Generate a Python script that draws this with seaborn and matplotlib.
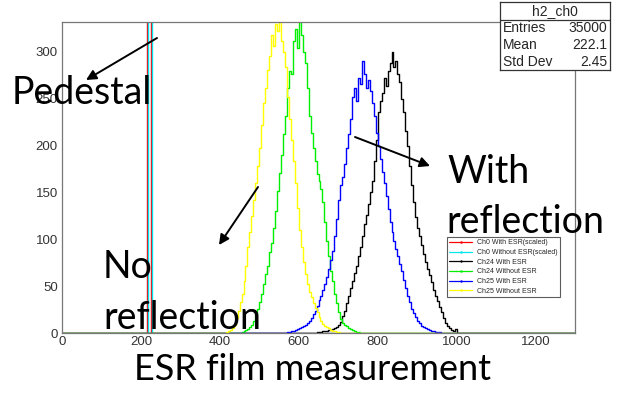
import numpy as np
import pandas as pd
import matplotlib
matplotlib.use("Agg")
import matplotlib.pyplot as plt
from matplotlib.lines import Line2D
from matplotlib.patches import FancyArrowPatch
import seaborn as sns

# ---- histogram contents (ADC channel, 5-channel bins: left edge -> counts) ----
ch25_noesr_start = 410
ch25_noesr = [0, 1, 2, 3, 5, 9, 16, 24, 33, 42, 55, 72, 92, 108, 125, 142, 160, 178,
              197, 222, 245, 262, 281, 296, 318, 306, 330, 322, 335, 312, 300, 284,
              252, 228, 206, 184, 160, 133, 110, 92, 76, 63, 52, 44, 38, 32, 27, 22,
              17, 13, 10, 8, 6, 5, 3, 2, 2, 1, 1, 0]

ch24_noesr_start = 450
ch24_noesr = [0, 1, 2, 3, 4, 6, 9, 13, 19, 26, 33, 42, 52, 63, 72, 86, 96, 112, 130,
              152, 171, 190, 212, 232, 262, 280, 276, 312, 325, 304, 336, 318, 300,
              288, 262, 232, 214, 198, 184, 170, 162, 154, 140, 118, 98, 82, 66, 55,
              42, 32, 22, 15, 11, 9, 7, 5, 4, 3, 2, 1, 1, 0]

ch25_esr_start = 565
ch25_esr = [0, 1, 1, 2, 2, 3, 4, 5, 6, 8, 9, 11, 13, 16, 20, 24, 29, 35, 40, 46, 52,
            60, 68, 78, 88, 104, 122, 142, 158, 166, 180, 198, 212, 228, 252, 262,
            248, 272, 266, 290, 276, 262, 270, 258, 246, 232, 214, 200, 186, 172,
            160, 146, 132, 118, 108, 98, 90, 82, 74, 66, 57, 48, 40, 33, 26, 21, 17,
            13, 11, 8, 6, 5, 4, 3, 2, 2, 1, 1, 1, 0]

ch24_esr_start = 640
ch24_esr = [0, 1, 1, 1, 2, 2, 2, 3, 3, 4, 5, 6, 9, 12, 18, 24, 32, 40, 48, 55, 64, 72,
            82, 92, 104, 116, 126, 138, 150, 162, 184, 206, 236, 248, 256, 272, 264,
            280, 288, 300, 284, 290, 276, 268, 250, 236, 216, 200, 178, 158, 140, 124,
            112, 104, 94, 84, 76, 68, 62, 54, 46, 40, 34, 28, 22, 16, 11, 7, 5, 3, 2,
            4, 0]

# pedestal peaks (scaled), one wide bin each, far above the displayed range
ch0_esr_edges = [215, 225]
ch0_noesr_edges = [218, 228]
ch0_height = [2000]

labels = ["Ch0 With ESR(scaled)", "Ch0 Without ESR(scaled)", "Ch24 With ESR",
          "Ch24 Without ESR", "Ch25 With ESR", "Ch25 Without ESR"]
colors = ["#ff0000", "#00e5ee", "#000000", "#00ee00", "#0000ff", "#ffff00"]

x_ticks = [0, 200, 400, 600, 800, 1000, 1200]
y_ticks = [0, 50, 100, 150, 200, 250, 300]

BW = 5
XMAX = 1300


def full_range(start, counts):
    """Spread a block of bin contents over the whole 0..XMAX axis."""
    edges = np.arange(0, XMAX + BW, BW, dtype=float)
    vals = np.zeros(len(edges) - 1)
    i0 = start // BW
    vals[i0:i0 + len(counts)] = counts
    return edges, vals


def pedestal(edges, height):
    e = np.array([0] + list(edges) + [XMAX], dtype=float)
    v = np.array([0, height[0], 0], dtype=float)
    return e, v


sns.set_style("white")
plt.rcParams["font.family"] = ["Liberation Sans", "DejaVu Sans"]

fig = plt.figure(figsize=(6.25, 3.98), dpi=100)
ax = fig.add_axes([62 / 625, 1 - 333 / 398, (575 - 62) / 625, (333 - 22) / 398])

series = [
    pedestal(ch0_esr_edges, ch0_height),
    pedestal(ch0_noesr_edges, ch0_height),
    full_range(ch24_esr_start, ch24_esr),
    full_range(ch24_noesr_start, ch24_noesr),
    full_range(ch25_esr_start, ch25_esr),
    full_range(ch25_noesr_start, ch25_noesr),
]

for (edges, vals), lab, col in zip(series, labels, colors):
    centers = (edges[:-1] + edges[1:]) / 2
    df = pd.DataFrame({"adc": centers, "counts": vals})
    sns.histplot(data=df, x="adc", weights="counts", bins=edges.tolist(),
                 element="step", fill=False, color=col, linewidth=1.0, ax=ax)

ax.set_xlim(0, XMAX)
ax.set_ylim(0, 332)
ax.set_xlabel("")
ax.set_ylabel("")
ax.set_xticks(x_ticks)
ax.set_yticks(y_ticks)
ax.set_xticks(np.arange(0, XMAX + 1, 50), minor=True)
ax.set_yticks(np.arange(0, 331, 10), minor=True)
ax.tick_params(axis="both", which="both", direction="in", colors="#555555",
               labelcolor="#333333", labelsize=9.5, width=0.8)
ax.tick_params(axis="y", which="major", length=11, pad=3)
ax.tick_params(axis="y", which="minor", length=5.5)
ax.tick_params(axis="x", which="major", length=6.5, pad=2)
ax.tick_params(axis="x", which="minor", length=3.2)
for s in ax.spines.values():
    s.set_color("#777777")
    s.set_linewidth(0.9)

# legend box
handles = [Line2D([0], [0], color=c, lw=0.9, marker=".", markersize=1.5) for c in colors]
leg = fig.legend(handles, labels, loc="upper left",
                 bbox_to_anchor=(447 / 625, 1 - 237 / 398),
                 fontsize=5, frameon=True, fancybox=False, edgecolor="#333333",
                 handlelength=3.2, handletextpad=0.8, labelspacing=0.38,
                 borderpad=0.35, borderaxespad=0)
leg.get_frame().set_linewidth(0.8)

# statistics box
sx0, sx1, sy0, sy1, sdiv = 500, 610, 70, 2, 20
box = fig.add_axes([sx0 / 625, 1 - sy0 / 398, (sx1 - sx0) / 625, (sy0 - sy1) / 398])
box.set_xlim(0, 1)
box.set_ylim(0, 1)
box.set_xticks([])
box.set_yticks([])
for s in box.spines.values():
    s.set_color("#333333")
    s.set_linewidth(0.9)
div = 1 - (sdiv - sy1) / (sy0 - sy1)
box.axhline(div, color="#333333", lw=0.9)
box.text(0.5, (1 + div) / 2, "h2_ch0", ha="center", va="center", fontsize=10)
stats = [("Entries", "35000"), ("Mean", "222.1"), ("Std Dev", "2.45")]
for i, (k, v) in enumerate(stats):
    yy = div * (1 - (i + 0.5) / 3)
    box.text(0.03, yy, k, ha="left", va="center", fontsize=10)
    box.text(0.975, yy, v, ha="right", va="center", fontsize=10)

# annotations
big = dict(fontsize=27, family=["Lato", "DejaVu Sans"], color="black")
H = 398
fig.text(12 / 625, 1 - 93 / H, "Pedestal", ha="left", va="center", **big)
fig.text(447 / 625, 1 - 172 / H, "With", ha="left", va="center", **big)
fig.text(446 / 625, 1 - 222 / H, "reflection", ha="left", va="center", **big)
fig.text(103 / 625, 1 - 267 / H, "No", ha="left", va="center", **big)
fig.text(103 / 625, 1 - 318 / H, "reflection", ha="left", va="center", **big)
fig.text(312 / 625, 1 - 370 / H, "ESR film measurement", ha="center", va="center",
         **{**big, "fontsize": 26})

arrow = dict(arrowstyle="-|>", color="black", lw=1.4, mutation_scale=15,
             shrinkA=0, shrinkB=0)
for (x0, y0), (x1, y1) in [((157, 38), (86, 80)), ((258, 187), (219, 245)),
                           ((355, 137), (430, 166))]:
    fig.add_artist(FancyArrowPatch((x0, H - y0), (x1, H - y1), transform=None, **arrow))

fig.savefig("out.png", dpi=100, facecolor="white")
